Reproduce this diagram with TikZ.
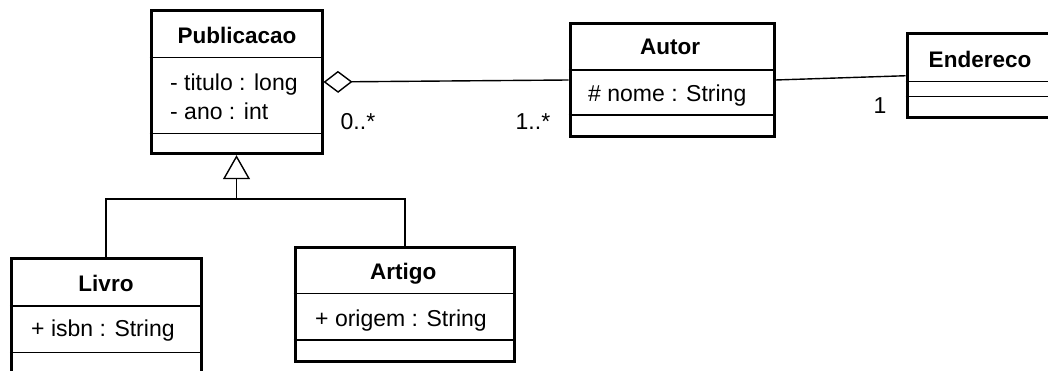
\documentclass[tikz,border=0pt]{standalone}
\usepackage{fontspec}
\setmainfont{Liberation Sans}
\usetikzlibrary{arrows.meta}
\begin{document}
\begin{tikzpicture}[x=1pt,y=-1pt,
  cls/.style={draw=black, line width=3pt, rectangle, inner sep=0pt, fill=white},
  sep/.style={line width=1.4pt},
  conn/.style={line width=1.4pt},
  ttl/.style={font=\fontsize{22.5}{27}\selectfont\bfseries, anchor=base, inner sep=0pt},
  attr/.style={font=\fontsize{23}{27}\selectfont, anchor=base west, inner sep=0pt},
  mult/.style={font=\fontsize{23}{27}\selectfont, anchor=base west, inner sep=0pt}]
\useasboundingbox (0,0) rectangle (1048,371);
\clip (0,0) rectangle (1048,371);
\fill[white] (0,0) rectangle (1048,371);

% class boxes
\node[cls, minimum width=171pt, minimum height=143.4pt] (pub) at (236.5,82) {};
\node[cls, minimum width=204pt, minimum height=113.4pt] (autor) at (672,80) {};
\node[cls, minimum width=146pt, minimum height=84.5pt] (end) at (980,75.75) {};
\node[cls, minimum width=189.7pt, minimum height=141.3pt] (livro) at (106.15,329.35) {};
\node[cls, minimum width=219.7pt, minimum height=114pt] (artigo) at (404.85,304) {};

% separators
\draw[sep] (pub.west |- 0,57.3) -- (pub.east |- 0,57.3);
\draw[sep] (pub.west |- 0,133.3) -- (pub.east |- 0,133.3);
\draw[sep] (autor.west |- 0,70) -- (autor.east |- 0,70);
\draw[sep] (autor.west |- 0,115) -- (autor.east |- 0,115);
\draw[sep] (end.west |- 0,81.7) -- (end.east |- 0,81.7);
\draw[sep] (end.west |- 0,96.7) -- (end.east |- 0,96.7);
\draw[sep] (livro.west |- 0,306) -- (livro.east |- 0,306);
\draw[sep] (livro.west |- 0,352.7) -- (livro.east |- 0,352.7);
\draw[sep] (artigo.west |- 0,293.3) -- (artigo.east |- 0,293.3);
\draw[sep] (artigo.west |- 0,340) -- (artigo.east |- 0,340);

% texts
\node[ttl] (pubT) at (237,43.3) {Publicacao};
\node[attr] (pubA1) at (170,90.7) {- titulo : long};
\node[attr] (pubA2) at (170,119.3) {- ano : int};
\node[ttl] (autorT) at (670,55) {Autor};
\node[attr] (autorA1) at (588,101.7) {\# nome : String};
\node[ttl] (endT) at (980,67.3) {Endereco};
\node[ttl] (livroT) at (106,291) {Livro};
\node[attr] (livroA1) at (31,336.7) {+ isbn : String};
\node[ttl] (artigoT) at (403.3,279.5) {Artigo};
\node[attr] (artigoA1) at (315,326.7) {+ origem : String};

% multiplicities
\node[mult] (m1) at (340.5,129.3) {0..*};
\node[mult] (m2) at (515.5,129.3) {1..*};
\node[mult] (m3) at (873.5,113.3) {1};

% connectors
\coordinate (jn) at (pub.south |- 0,199);
\draw[conn] (livro.north) |- (jn);
\draw[conn] (artigo.north) |- (jn);
\draw[conn, -{Triangle[open, length=24pt, width=27pt]}] (jn) -- (pub.south);
\draw[conn, {Diamond[open, length=29pt, width=22pt]}-] (pub.east) -- (autor.west);
\draw[conn] (autor.east) -- (end.west);
\end{tikzpicture}
\end{document}
